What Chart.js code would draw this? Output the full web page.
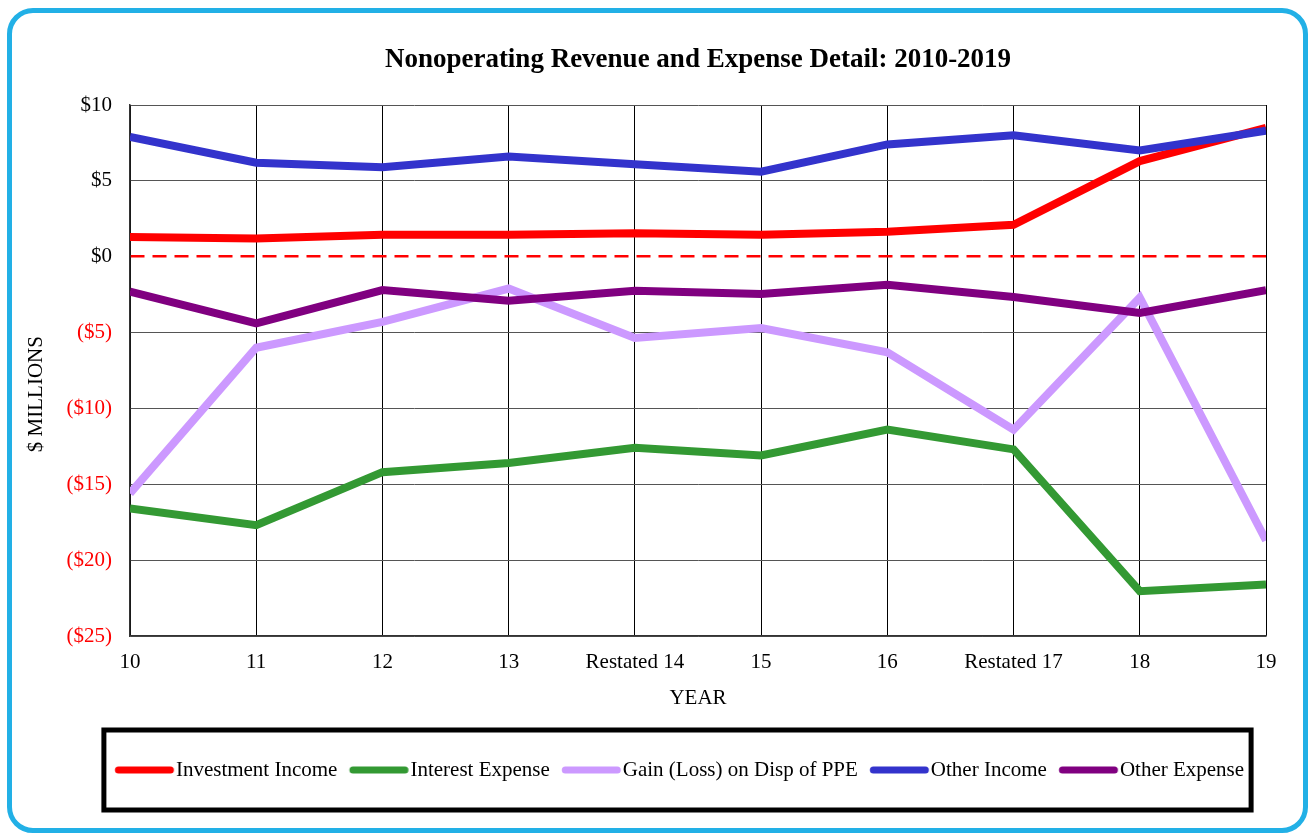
<!DOCTYPE html>
<html>
<head>
<meta charset="utf-8">
<script src="https://cdn.jsdelivr.net/npm/chart.js@4.4.1/dist/chart.umd.min.js"></script>
<style>
  html, body { margin: 0; padding: 0; background: #fff; }
  .frame {
    position: absolute; left: 7px; top: 8px;
    width: 1291px; height: 815px;
    border: 5px solid #22b0e6; border-radius: 26px;
  }
  #nonopChart { position: absolute; left: 0; top: 0; }
</style>
</head>
<body>
<div class="frame"></div>
<canvas id="nonopChart" width="1311" height="836"></canvas>
<script>
// Chart data ($ millions)
const years = ['10', '11', '12', '13', 'Restated 14', '15', '16', 'Restated 17', '18', '19'];
const investmentIncome = [1.3, 1.2, 1.45, 1.45, 1.55, 1.45, 1.65, 2.1, 6.3, 8.5];
const interestExpense = [-16.6, -17.7, -14.2, -13.6, -12.6, -13.1, -11.4, -12.7, -22.05, -21.6];
const gainLossPPE = [-15.6, -6.0, -4.3, -2.1, -5.35, -4.7, -6.3, -11.4, -2.7, -18.7];
const otherIncome = [7.9, 6.2, 5.9, 6.6, 6.1, 5.6, 7.4, 8.0, 7.0, 8.3];
const otherExpense = [-2.3, -4.4, -2.2, -2.9, -2.25, -2.45, -1.85, -2.65, -3.7, -2.2];
const yTickValues = [10, 5, 0, -5, -10, -15, -20, -25];

// Colors
const redColor = '#ff0000',
  greenColor = '#339933',
  lavenderColor = '#cc99ff',
  blueColor = '#3333cc',
  purpleColor = '#800080',
  gridColor = '#555555';

const fontFamily = "'Liberation Serif', 'Times New Roman', serif";

// Small rounded line used as the legend marker
function legendSwatch(color) {
  const c = document.createElement('canvas');
  c.width = 70;
  c.height = 10;
  const g = c.getContext('2d');
  g.strokeStyle = color;
  g.lineWidth = 7;
  g.lineCap = 'round';
  g.beginPath();
  g.moveTo(13.25, 5);
  g.lineTo(65.25, 5);
  g.stroke();
  return c;
}

function series(label, data, color, idx) {
  return {
    label: label,
    data: data,
    borderColor: color,
    backgroundColor: color,
    borderWidth: 8,
    borderJoinStyle: 'miter',
    pointRadius: 0,
    pointStyle: legendSwatch(color),
    tension: 0,
    clip: 0,
    order: -idx // later series sit on top, like the original
  };
}

// Moves the legend and draws the heavy black frame around it
const legendFrame = {
  id: 'legendFrame',
  afterLayout(chart) {
    chart.legend.left += 46.5;
    chart.legend.right += 46.5;
  },
  afterDraw(chart) {
    const legend = chart.legend;
    const boxes = legend.legendHitBoxes;
    if (!boxes || !boxes.length) return;
    const first = boxes[0];
    const last = boxes[boxes.length - 1];
    const ctx = chart.ctx;
    ctx.save();
    ctx.lineWidth = 5;
    ctx.strokeStyle = '#000';
    ctx.strokeRect(
      first.left - 11,
      legend.top - 17.5,
      last.left + last.width - first.left + 18,
      legend.bottom - legend.top + 37
    );
    ctx.restore();
  }
};

const chartEl = document.getElementById('nonopChart');
new Chart(chartEl, {
  type: 'line',
  data: {
    labels: years,
    datasets: [
      series('Investment Income', investmentIncome, redColor, 0),
      series('Interest Expense', interestExpense, greenColor, 1),
      series('Gain (Loss) on Disp of PPE', gainLossPPE, lavenderColor, 2),
      series('Other Income', otherIncome, blueColor, 3),
      series('Other Expense', otherExpense, purpleColor, 4)
    ]
  },
  options: {
    responsive: false,
    animation: false,
    events: [],
    layout: {
      padding: { left: 0, right: 45, top: 0, bottom: 45.5 }
    },
    plugins: {
      title: {
        display: true,
        fullSize: false,
        text: 'Nonoperating Revenue and Expense Detail: 2010-2019',
        color: '#000',
        font: { family: fontFamily, size: 27, weight: 'bold' },
        padding: { top: 43.5, bottom: 29.1 }
      },
      legend: {
        position: 'bottom',
        labels: {
          color: '#000',
          font: { family: fontFamily, size: 21 },
          usePointStyle: true,
          pointStyleWidth: 50.5,
          padding: 12,
          sort: (a, b) => a.datasetIndex - b.datasetIndex
        }
      },
      tooltip: { enabled: false }
    },
    scales: {
      x: {
        type: 'category',
        offset: false,
        afterFit: scale => { scale.height = 111.5; },
        grid: {
          color: '#000',
          lineWidth: 1,
          drawTicks: false,
          offset: false
        },
        border: { color: '#333', width: 1.5 },
        ticks: {
          color: '#000',
          font: { family: fontFamily, size: 21 },
          padding: 14,
          maxRotation: 0,
          autoSkip: false
        },
        title: {
          display: true,
          text: 'YEAR',
          color: '#000',
          font: { family: fontFamily, size: 21 },
          padding: { top: 0, bottom: 36.9 }
        }
      },
      y: {
        min: -25,
        max: 10,
        afterFit: scale => { scale.width = 130; },
        afterBuildTicks: scale => {
          scale.ticks = yTickValues.map(v => ({ value: v }));
        },
        grid: {
          color: ctx => (ctx.tick && ctx.tick.value === 0 ? redColor : gridColor),
          lineWidth: ctx => (ctx.tick && ctx.tick.value === 0 ? 2.5 : 1),
          drawTicks: false
        },
        border: {
          color: '#333',
          width: 1.5,
          dash: ctx => (ctx.tick && ctx.tick.value === 0 ? [14, 8] : [])
        },
        ticks: {
          font: { family: fontFamily, size: 21 },
          padding: 18,
          color: ctx => (ctx.tick.value < 0 ? redColor : '#000'),
          callback: value => (value < 0 ? '($' + -value + ')' : '$' + value)
        },
        title: {
          display: true,
          // trailing spaces push the label toward the lower half, as in the original
          text: '$ MILLIONS         ',
          color: '#000',
          font: { family: fontFamily, size: 21 },
          padding: { top: 23.4, bottom: 0 }
        }
      }
    }
  },
  plugins: [legendFrame]
});
</script>
</body>
</html>
